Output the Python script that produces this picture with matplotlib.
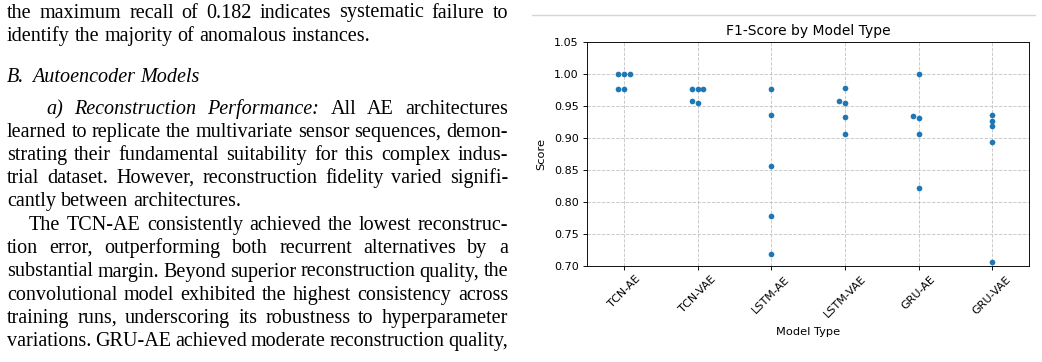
import numpy as np
import pandas as pd
import matplotlib
matplotlib.use('Agg')
import matplotlib.pyplot as plt
import seaborn as sns
from matplotlib.lines import Line2D

# F1 scores per autoencoder type (5 runs each)
models = ['TCN-AE', 'TCN-VAE', 'LSTM-AE', 'LSTM-VAE', 'GRU-AE', 'GRU-VAE']
tcn_ae = [1.000, 1.000, 1.000, 0.977, 0.977]
tcn_vae = [0.977, 0.977, 0.977, 0.958, 0.955]
lstm_ae = [0.977, 0.936, 0.857, 0.778, 0.719]
lstm_vae = [0.978, 0.958, 0.955, 0.933, 0.906]
gru_ae = [1.000, 0.934, 0.931, 0.906, 0.822]
gru_vae = [0.936, 0.927, 0.918, 0.894, 0.707]
f1_scores = [tcn_ae, tcn_vae, lstm_ae, lstm_vae, gru_ae, gru_vae]
y_ticks = [0.70, 0.75, 0.80, 0.85, 0.90, 0.95, 1.00, 1.05]

# paper text next to the figure: (text, italic words (-1 = all), indent px, justified)
paper_lines = [
    ("the maximum recall of 0.182 indicates systematic failure to", 0, 7, True),
    ("identify the majority of anomalous instances.", 0, 7, False),
    ("B. Autoencoder Models", -1, 7, False),
    ("a) Reconstruction Performance: All AE architectures", 3, 46, True),
    ("learned to replicate the multivariate sensor sequences, demon-", 0, 7, True),
    ("strating their fundamental suitability for this complex indus-", 0, 7, True),
    ("trial dataset. However, reconstruction fidelity varied signifi-", 0, 7, True),
    ("cantly between architectures.", 0, 7, False),
    ("The TCN-AE consistently achieved the lowest reconstruc-", 0, 29, True),
    ("tion error, outperforming both recurrent alternatives by a", 0, 7, True),
    ("substantial margin. Beyond superior reconstruction quality, the", 0, 7, True),
    ("convolutional model exhibited the highest consistency across", 0, 7, True),
    ("training runs, underscoring its robustness to hyperparameter", 0, 7, True),
    ("variations. GRU-AE achieved moderate reconstruction quality,", 0, 7, True),
]
baselines = [17.5, 41, 81.5, 114, 137, 160, 183, 206.5, 230, 253, 276.5, 300, 323, 346]

W, H = 1042, 362
fig = plt.figure(figsize=(W / 100, H / 100), dpi=100)
r = fig.canvas.get_renderer()


def put_line(text, n_it, x0, justify, base, x1=508, fs=14.5):
    words = text.split(' ')
    arts, widths = [], []
    for i, w in enumerate(words):
        it = n_it < 0 or i < n_it
        t = fig.text(0, 1 - base / H, w, fontsize=fs, family='Liberation Serif',
                     style='italic' if it else 'normal', va='baseline', ha='left')
        arts.append(t)
        widths.append(t.get_window_extent(r).width)
    if justify and len(words) > 1:
        gaps = [(x1 - x0 - sum(widths)) / (len(words) - 1)] * len(words)
    else:
        gaps = [0.25 * fs * 100 / 72] * len(words)
        if words[0] == 'B.':
            gaps[0] *= 1.6
    x = x0
    for t, w, g in zip(arts, widths, gaps):
        t.set_x(x / W)
        x += w + g


for (txt, n_it, x0, just), b in zip(paper_lines, baselines):
    put_line(txt, n_it, x0, just, b)

# thin rule above the figure
fig.add_artist(Line2D([532 / W, 1035 / W], [1 - 15 / H, 1 - 15 / H],
                      transform=fig.transFigure, color='#d6d6d6', lw=1))

df = pd.DataFrame({'Model Type': np.repeat(models, [len(v) for v in f1_scores]),
                   'F1-Score': np.concatenate(f1_scores)})

ax = fig.add_axes([587 / W, 96 / H, 442 / W, 224 / H])
sns.swarmplot(data=df, x='Model Type', y='F1-Score', ax=ax, size=4.1, color='#1f77b4')
ax.set_ylim(0.70, 1.05)
ax.set_xlim(-0.5, 5.5)
ax.set_yticks(y_ticks)
ax.set_yticklabels([f'{v:.2f}' for v in y_ticks])
ax.grid(True, linestyle='--', alpha=0.7, linewidth=0.65)
ax.set_axisbelow(True)
ax.set_title('F1-Score by Model Type', fontsize=10, pad=5)
ax.set_xlabel('Model Type', fontsize=8.2, labelpad=5.5)
ax.set_ylabel('Score', fontsize=8.2, labelpad=6)
ax.tick_params(labelsize=8, length=2.9, width=0.65, pad=2.9)
plt.setp(ax.get_xticklabels(), rotation=45)
for s in ax.spines.values():
    s.set_linewidth(0.65)

fig.savefig('out.png', dpi=100)
